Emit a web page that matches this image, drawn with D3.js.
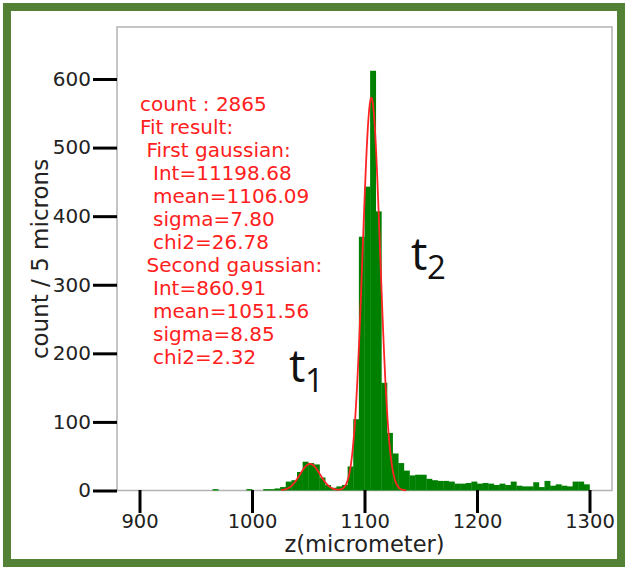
<!DOCTYPE html>
<html>
<head>
<meta charset="utf-8">
<script src="https://cdn.jsdelivr.net/npm/d3@7"></script>
<style>
  html, body { margin: 0; padding: 0; background: #ffffff; }
  svg { display: block; }
</style>
</head>
<body>
<svg id="chart" width="628" height="570"></svg>
<script>
// ---- data ----
const binLefts = [965, 970, 975, 980, 985, 990, 995, 1000, 1005, 1010, 1015, 1020,
  1025, 1030, 1035, 1040, 1045, 1050, 1055, 1060, 1065, 1070, 1075, 1080, 1085,
  1090, 1095, 1100, 1105, 1110, 1115, 1120, 1125, 1130, 1135, 1140, 1145, 1150,
  1155, 1160, 1165, 1170, 1175, 1180, 1185, 1190, 1195, 1200, 1205, 1210, 1215,
  1220, 1225, 1230, 1235, 1240, 1245, 1250, 1255, 1260, 1265, 1270, 1275, 1280,
  1285, 1290, 1295];
const counts = [2, 0, 0, 0, 0, 0, 2, 0, 0, 2, 2, 3,
  5, 13, 15, 27, 42, 40, 38, 19, 8, 4, 6, 8, 35,
  104, 370, 443, 612, 407, 157, 84, 54, 40, 29, 22, 23, 23,
  17, 15, 14, 14, 13, 10, 10, 11, 13, 10, 11, 10, 8,
  10, 8, 13, 7, 6, 6, 12, 5, 14, 7, 9, 7, 6,
  13, 13, 9];
const binWidth = 5;

// fit parameters shown on the chart
const fitInt   = [11198.68, 860.91];
const fitMean  = [1106.09, 1051.56];
const fitSigma = [7.80, 8.85];
const fitRange = [1026, 1137];

const xTicks = [900, 1000, 1100, 1200, 1300];
const yTicks = [0, 100, 200, 300, 400, 500, 600];

const infoLines = [
  {t: "count : 2865", indent: 0},
  {t: "Fit result:", indent: 0},
  {t: "First gaussian:", indent: 1},
  {t: "Int=11198.68", indent: 2},
  {t: "mean=1106.09", indent: 2},
  {t: "sigma=7.80", indent: 2},
  {t: "chi2=26.78", indent: 2},
  {t: "Second gaussian:", indent: 1},
  {t: "Int=860.91", indent: 2},
  {t: "mean=1051.56", indent: 2},
  {t: "sigma=8.85", indent: 2},
  {t: "chi2=2.32", indent: 2}
];

// ---- layout ----
const svg = d3.select("#chart");
const frame = {left: 117, right: 612, top: 27, bottom: 490.5};

const x = d3.scaleLinear().domain([880, 1320]).range([frame.left, frame.right]);
const y = d3.scaleLinear().domain([0, 600]).range([frame.bottom, 79]);

// outer green border
svg.append("rect")
  .attr("x", 7).attr("y", 7).attr("width", 614).attr("height", 556)
  .attr("fill", "#ffffff").attr("stroke", "#538135").attr("stroke-width", 8);

// plot frame
svg.append("rect")
  .attr("x", frame.left).attr("y", frame.top)
  .attr("width", frame.right - frame.left).attr("height", frame.bottom - frame.top)
  .attr("fill", "#ffffff").attr("stroke", "#b3b3b3").attr("stroke-width", 1.5);

// histogram bars
const bins = binLefts.map((b, i) => ({x0: b, x1: b + binWidth, c: counts[i]}));
svg.append("g").selectAll("rect").data(bins.filter(d => d.c > 0)).join("rect")
  .attr("x", d => x(d.x0))
  .attr("width", d => x(d.x1) - x(d.x0) + 0.3)
  .attr("y", d => y(d.c))
  .attr("height", d => y(0) - y(d.c))
  .attr("fill", "#008000");

// fit curve (sum of the two fitted gaussians)
function gauss(v, k) {
  return fitInt[k] / (fitSigma[k] * Math.sqrt(2 * Math.PI)) *
    Math.exp(-0.5 * Math.pow((v - fitMean[k]) / fitSigma[k], 2));
}
const curve = d3.range(fitRange[0], fitRange[1] + 0.01, 0.5)
  .map(v => [v, gauss(v, 0) + gauss(v, 1)]);
svg.append("path")
  .datum(curve)
  .attr("fill", "none").attr("stroke", "#ff2424").attr("stroke-width", 1.8)
  .attr("stroke-linejoin", "round")
  .attr("d", d3.line().x(d => x(d[0])).y(d => y(d[1])));

// y axis
const yAxis = svg.append("g")
  .attr("transform", `translate(${frame.left},0)`)
  .call(d3.axisLeft(y).tickValues(yTicks).tickSize(24).tickPadding(2).tickFormat(d3.format("d")));
yAxis.select(".domain").remove();
yAxis.selectAll(".tick line").attr("stroke", "#000").attr("stroke-width", 3);
yAxis.selectAll(".tick text")
  .attr("font-family", "DejaVu Sans").attr("font-size", 20).attr("fill", "#222");

// x axis
const xAxis = svg.append("g")
  .attr("transform", `translate(0,${frame.bottom - 0.5})`)
  .call(d3.axisBottom(x).tickValues(xTicks).tickSize(23).tickPadding(1).tickFormat(d3.format("d")));
xAxis.select(".domain").remove();
xAxis.selectAll(".tick line").attr("stroke", "#000").attr("stroke-width", 3);
xAxis.selectAll(".tick text")
  .attr("font-family", "DejaVu Sans").attr("font-size", 19.5).attr("fill", "#222");

// axis titles
svg.append("text")
  .attr("x", 364.5).attr("y", 552).attr("text-anchor", "middle")
  .attr("font-family", "DejaVu Sans").attr("font-size", 22.5).attr("fill", "#222")
  .text("z(micrometer)");
svg.append("text")
  .attr("transform", "translate(48,259) rotate(-90)").attr("text-anchor", "middle")
  .attr("font-family", "DejaVu Sans").attr("font-size", 23).attr("fill", "#222")
  .text("count / 5 microns");

// fit result text
svg.append("g").selectAll("text").data(infoLines).join("text")
  .attr("x", d => 140 + d.indent * 6.5)
  .attr("y", (d, i) => 111 + i * 23)
  .attr("font-family", "DejaVu Sans").attr("font-size", 20).attr("fill", "#ff2020")
  .text(d => d.t);

// t1 / t2 annotations
const ann = [
  {main: "t", sub: "1", x: 289, y: 382, sy: 392},
  {main: "t", sub: "2", x: 411, y: 270, sy: 279}
];
ann.forEach(a => {
  svg.append("text").attr("x", a.x).attr("y", a.y)
    .attr("font-family", "Open Sans").attr("font-size", 46).attr("fill", "#111")
    .text(a.main);
  svg.append("text").attr("x", a.x + 16).attr("y", a.sy)
    .attr("font-family", "Open Sans").attr("font-size", 33).attr("fill", "#111")
    .text(a.sub);
});
</script>
</body>
</html>
